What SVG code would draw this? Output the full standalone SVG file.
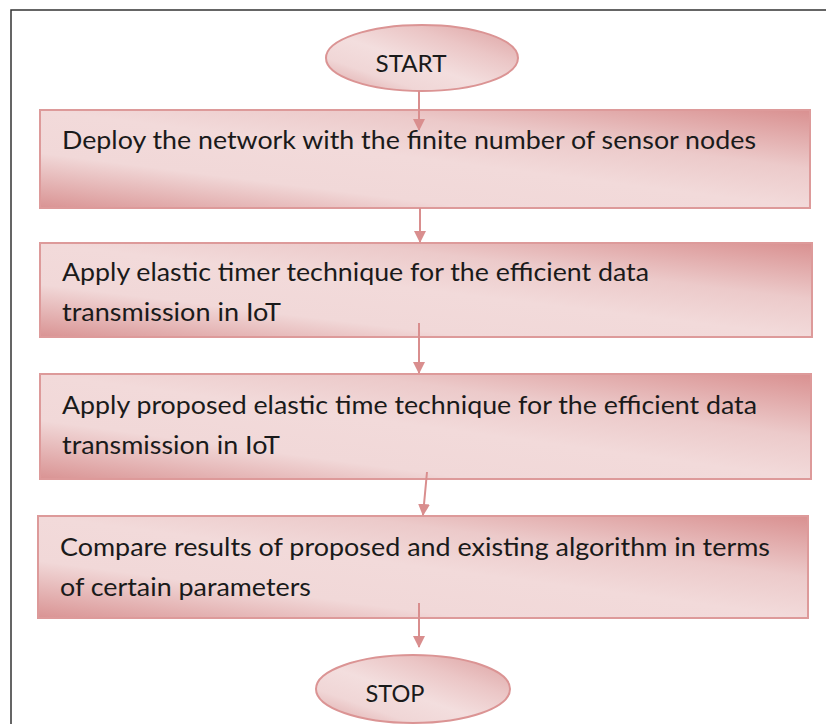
<svg xmlns="http://www.w3.org/2000/svg" width="826" height="724" viewBox="0 0 826 724">
  <defs>
    <!-- soft rose fill: darker toward the top-right and bottom-left corners -->
    <linearGradient id="boxFill" x1="1" y1="0" x2="0" y2="1">
      <stop offset="0" stop-color="#d99090"/>
      <stop offset="0.3" stop-color="#eccaca"/>
      <stop offset="0.5" stop-color="#f2dada"/>
      <stop offset="0.72" stop-color="#f1d8d8"/>
      <stop offset="1" stop-color="#d99393"/>
    </linearGradient>
    <linearGradient id="ovalFill" x1="1" y1="0" x2="0" y2="1">
      <stop offset="0" stop-color="#dca0a0"/>
      <stop offset="0.3" stop-color="#ebc6c6"/>
      <stop offset="0.55" stop-color="#f3dede"/>
      <stop offset="0.75" stop-color="#f0d6d6"/>
      <stop offset="1" stop-color="#dca2a2"/>
    </linearGradient>
    <marker id="head" viewBox="0 0 12 12" refX="11" refY="6" markerWidth="12" markerHeight="12" markerUnits="userSpaceOnUse" orient="auto">
      <path d="M0,0 L12,6 L0,12 Z" fill="#d98e8e"/>
    </marker>
  </defs>
  <style>
    .box { fill: url(#boxFill); stroke: #dd9a9a; stroke-width: 2; }
    .oval { fill: url(#ovalFill); stroke: #db9494; stroke-width: 2; }
    .lbl { font-family: Lato, "Open Sans", "Liberation Sans", sans-serif; font-size: 25px; fill: #1a1a1a; }
    .term { font-family: Lato, "Open Sans", "Liberation Sans", sans-serif; font-size: 24px; fill: #1a1a1a; text-anchor: middle; }
    .conn { stroke: #d98e8e; stroke-width: 2; fill: none; marker-end: url(#head); }
  </style>

  <rect width="826" height="724" fill="#ffffff"/>
  <!-- outer frame, runs off the right and bottom edges -->
  <path d="M11,730 L11,10 L832,10" fill="none" stroke="#333333" stroke-width="1.5"/>

  <g id="start">
    <ellipse class="oval" cx="422" cy="58" rx="96" ry="33"/>
    <text class="term" x="411" y="72" textLength="71" lengthAdjust="spacingAndGlyphs">START</text>
  </g>

  <g id="deploy">
    <rect class="box" x="40" y="110" width="770" height="98"/>
    <text class="lbl" x="62" y="149" textLength="694" lengthAdjust="spacingAndGlyphs">Deploy the network with the finite number of sensor nodes</text>
  </g>

  <g id="elastic-timer">
    <rect class="box" x="40" y="243" width="772" height="94"/>
    <text class="lbl" x="62" y="281" textLength="587" lengthAdjust="spacingAndGlyphs">Apply elastic timer technique for the efficient data</text>
    <text class="lbl" x="62" y="321" textLength="219" lengthAdjust="spacingAndGlyphs">transmission in IoT</text>
  </g>

  <g id="proposed-elastic">
    <rect class="box" x="40" y="374" width="771" height="105"/>
    <text class="lbl" x="62" y="414" textLength="695" lengthAdjust="spacingAndGlyphs">Apply proposed elastic time technique for the efficient data</text>
    <text class="lbl" x="62" y="454" textLength="218" lengthAdjust="spacingAndGlyphs">transmission in IoT</text>
  </g>

  <g id="compare">
    <rect class="box" x="38" y="516" width="770" height="102"/>
    <text class="lbl" x="60" y="556" textLength="710" lengthAdjust="spacingAndGlyphs">Compare results of proposed and existing algorithm in terms</text>
    <text class="lbl" x="60" y="596" textLength="251" lengthAdjust="spacingAndGlyphs">of certain parameters</text>
  </g>

  <g id="stop">
    <ellipse class="oval" cx="413" cy="689" rx="97" ry="34"/>
    <text class="term" x="395" y="702" textLength="59" lengthAdjust="spacingAndGlyphs">STOP</text>
  </g>

  <g id="connectors">
    <line class="conn" x1="419" y1="91" x2="419" y2="130"/>
    <line class="conn" x1="420" y1="208" x2="420" y2="242"/>
    <line class="conn" x1="419" y1="323" x2="419" y2="373"/>
    <line class="conn" x1="427" y1="472" x2="423" y2="515"/>
    <line class="conn" x1="419" y1="603" x2="419" y2="647"/>
  </g>
</svg>
